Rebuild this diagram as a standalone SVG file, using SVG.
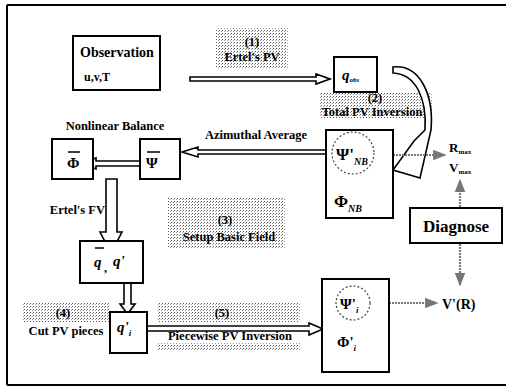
<svg xmlns="http://www.w3.org/2000/svg" width="509" height="391" viewBox="0 0 509 391">
<defs>
<pattern id="dots" width="3" height="3" patternUnits="userSpaceOnUse"><rect width="1" height="1" fill="#555"/><rect x="2" y="1" width="1" height="1" fill="#999"/></pattern>
<marker id="dh" viewBox="0 0 10 10" refX="9" refY="5" markerWidth="6" markerHeight="6" orient="auto"><path d="M0,1 L10,5 L0,9 Z" fill="#777"/></marker>
<style>
.t{font-family:"Liberation Serif",serif;font-weight:bold;fill:#000;}
.lbl{font-size:12.5px;}
.box{fill:#fff;stroke:#000;stroke-width:2;}
.ha{fill:#fff;stroke:#000;stroke-width:1.6;stroke-linejoin:miter;}
.dot{fill:url(#dots);}
.dc{fill:none;stroke:#444;stroke-width:1.2;stroke-dasharray:2 2;}
.dl{fill:none;stroke:#777;stroke-width:2.2;stroke-dasharray:2 1;}
.it{font-style:italic;}
</style>
</defs>
<rect width="509" height="391" fill="#fff"/>
<path d="M7,5 H506 M7,5 V385 M7,385 H506" fill="none" stroke="#000" stroke-width="2"/>

<g id="labels-bg">
<rect class="dot" x="216" y="28" width="72" height="40"/>
<rect class="dot" x="320" y="92" width="112" height="26"/>
<rect class="dot" x="168" y="197" width="117" height="51"/>
<rect class="dot" x="22" y="302" width="88" height="20"/>
<rect class="dot" x="157" y="302" width="143" height="20"/>
<rect class="dot" x="157" y="343" width="143" height="7"/>
</g>

<g id="connectors">
<polygon class="ha" points="190,77 316,77 316,74 330,79 316,84 316,81 190,81"/>
<polygon class="ha" points="182,152 198,147 198,150 330,150 330,154 198,154 198,157"/>
<polygon class="ha" points="82,163 96,158 96,161 145,161 145,166 96,166 96,169"/>
<polygon class="ha" points="106,179 117,179 117,232 122,232 111,253 100,232 106,232"/>
<polygon class="ha" points="124,268 131,268 131,304 135,304 127.5,314 120,304 124,304"/>
<polygon class="ha" points="144,326 309,326 309,323 323,329 309,335 309,331 144,331"/>
<path class="ha" d="M393,67 C420,64 434,95 431,130 L420,178 L393,170 L414,141 L425,130 C427,99 416,74 393,73 Z"/>
<line class="dl" x1="375" y1="155" x2="445" y2="155" marker-end="url(#dh)"/>
<line class="dl" x1="460" y1="207" x2="460" y2="180" marker-end="url(#dh)"/>
<line class="dl" x1="460" y1="244" x2="460" y2="285" marker-end="url(#dh)"/>
<line class="dl" x1="371" y1="303" x2="437" y2="303" marker-end="url(#dh)"/>
</g>

<g id="observation">
<rect class="box" x="73" y="36" width="87" height="54"/>
<text class="t" x="80" y="57" font-size="14">Observation</text>
<text class="t" x="84" y="81" font-size="12">u,v,T</text>
</g>

<g id="qobs">
<rect class="box" x="334" y="57" width="43" height="35"/>
<text class="t it" x="342" y="80" font-size="15">q<tspan font-size="7" dy="2">obs</tspan></text>
</g>

<g id="nb-box">
<rect class="box" x="326" y="130" width="67" height="88"/>
<circle class="dc" cx="353" cy="153" r="21"/>
<text class="t" x="336" y="160" font-size="17">Ψ'<tspan class="it" font-size="10" dy="5">NB</tspan></text>
<text class="t" x="334" y="207" font-size="17">Φ<tspan class="it" font-size="10" dy="5">NB</tspan></text>
</g>

<g id="phibar">
<rect class="box" x="52" y="139" width="41" height="40"/>
<line x1="68" y1="152" x2="80" y2="152" stroke="#000" stroke-width="1.5"/>
<text class="t" x="67" y="168" font-size="15">Φ</text>
</g>

<g id="psibar">
<rect class="box" x="140" y="139" width="40" height="40"/>
<line x1="147" y1="152" x2="160" y2="152" stroke="#000" stroke-width="1.5"/>
<text class="t" x="146" y="168" font-size="15">Ψ</text>
</g>

<g id="qq-box">
<rect class="box" x="80" y="241" width="63" height="42"/>
<line x1="95" y1="248" x2="104" y2="248" stroke="#000" stroke-width="1.5"/>
<text class="t it" x="94" y="267" font-size="15">q</text>
<text class="t" x="104" y="272" font-size="12">,</text>
<text class="t it" x="113" y="266" font-size="15">q'</text>
</g>

<g id="qi-box">
<rect class="box" x="110" y="312" width="37" height="41"/>
<text class="t it" x="117" y="332" font-size="15">q'<tspan font-size="9" dy="4">i</tspan></text>
</g>

<g id="pi-box">
<rect class="box" x="322" y="279" width="67" height="93"/>
<circle class="dc" cx="353" cy="303" r="17"/>
<text class="t" x="340" y="309" font-size="15">Ψ'<tspan class="it" font-size="9" dy="4">i</tspan></text>
<text class="t" x="337" y="347" font-size="15">Φ'<tspan class="it" font-size="9" dy="4">i</tspan></text>
</g>

<g id="diagnose">
<rect class="box" x="410" y="208" width="92" height="35"/>
<text class="t" x="456" y="232" font-size="17" text-anchor="middle">Diagnose</text>
</g>

<g id="texts">
<text class="t lbl" x="252" y="46" text-anchor="middle">(1)</text>
<text class="t lbl" x="252" y="61" text-anchor="middle">Ertel's PV</text>
<text class="t lbl" x="375" y="102" text-anchor="middle">(2)</text>
<text class="t lbl" x="372" y="116" text-anchor="middle">Total PV Inversion</text>
<text class="t lbl" x="256" y="139" text-anchor="middle">Azimuthal Average</text>
<text class="t lbl" x="115" y="130" text-anchor="middle">Nonlinear Balance</text>
<text class="t lbl" x="105" y="214" text-anchor="end">Ertel's FV</text>
<text class="t lbl" x="225" y="224" text-anchor="middle">(3)</text>
<text class="t lbl" x="229" y="241" text-anchor="middle">Setup Basic Field</text>
<text class="t lbl" x="63" y="317" text-anchor="middle">(4)</text>
<text class="t lbl" x="66" y="335" text-anchor="middle">Cut PV pieces</text>
<text class="t lbl" x="222" y="317" text-anchor="middle">(5)</text>
<text class="t lbl" x="230" y="340" text-anchor="middle">Piecewise PV Inversion</text>
<text class="t" x="449" y="152" font-size="13">R<tspan font-size="7" dy="2">max</tspan></text>
<text class="t" x="449" y="172" font-size="13">V<tspan font-size="7" dy="2">max</tspan></text>
<text class="t" x="442" y="309" font-size="14">V'(R)</text>
</g>
</svg>
